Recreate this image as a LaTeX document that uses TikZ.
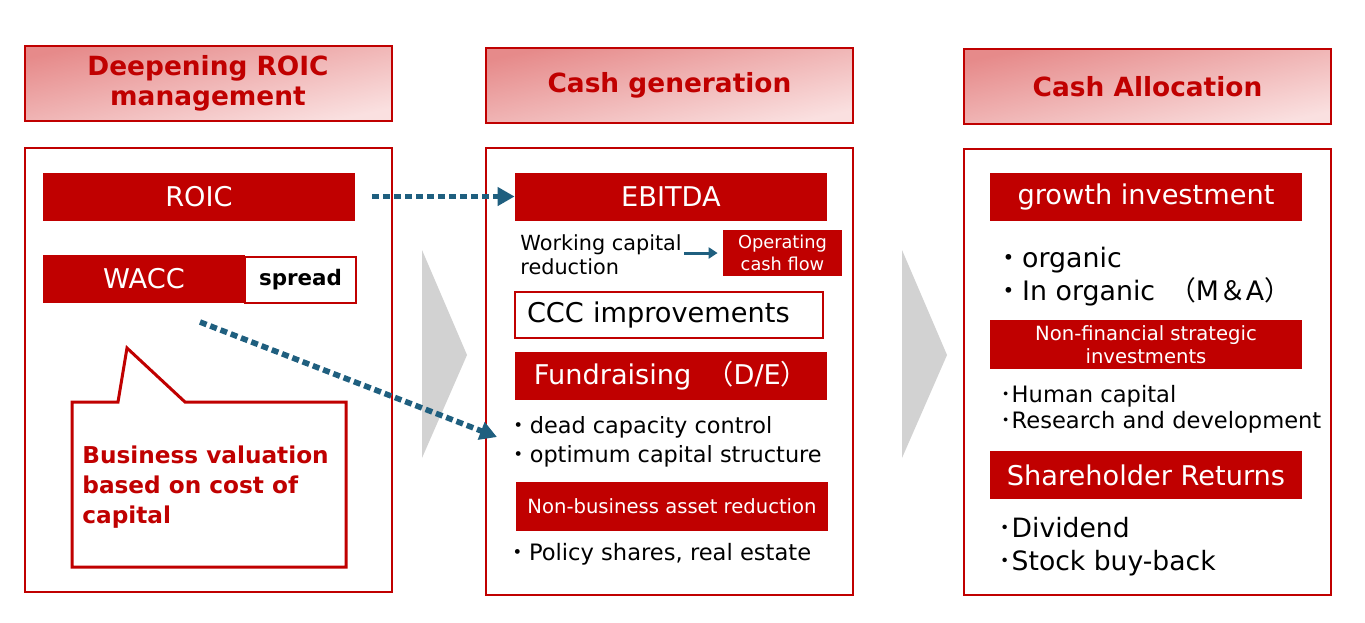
\documentclass[tikz,border=0pt]{standalone}
\usepackage{fontspec}
\setmainfont{DejaVu Sans}
\newfontfamily\cjk{Noto Sans CJK JP}
\usetikzlibrary{arrows.meta}
\definecolor{roicred}{RGB}{192,0,0}
\definecolor{hdrdark}{RGB}{230,138,138}
\definecolor{hdrlight}{RGB}{250,224,224}
\definecolor{arrowblue}{RGB}{31,95,127}
\definecolor{chevgray}{RGB}{210,210,210}

\begin{document}
\begin{tikzpicture}
[x=0.5pt, y=-0.5pt,
every node/.style={inner sep=0pt},
hdr/.style={draw=roicred, line width=1pt, top color=hdrdark, bottom color=hdrlight, shading angle=12,
  text=roicred, align=center, font=\bfseries\fontsize{13.2}{15}\selectfont,
  minimum width=183.5pt, minimum height=37.5pt},
panel/.style={draw=roicred, line width=1pt, minimum width=183.5pt},
bar/.style={fill=roicred, text=white, minimum width=156pt, minimum height=24pt, font=\fontsize{13.6}{16}\selectfont},
smallbar/.style={fill=roicred, text=white, align=center, font=\fontsize{9.8}{11.5}\selectfont},
item/.style={anchor=base west, font=\fontsize{11.2}{14}\selectfont},
bigitem/.style={anchor=base west, font=\fontsize{13.4}{16}\selectfont},
dots/.style={draw=arrowblue, line width=2.8pt, dash pattern=on 3.5pt off 2pt, -{Triangle[length=8.5pt,width=9pt]}}]

\fill[white] (0,0) rectangle (1365,622);
\useasboundingbox (0,0) rectangle (1365,622);

% big grey arrows between the columns
\fill[chevgray] (422,250) -- (467,355) -- (422,458) -- cycle;
\fill[chevgray] (902,250) -- (947,355) -- (902,458) -- cycle;

% ROIC column
\node[hdr] (roichdr) at (208,83) {Deepening ROIC\\management};
\node[panel, minimum height=222pt] (roicpanel) at (208,370) {};
\node[bar] (roic) at (199,196.5) {ROIC};
\node[bar, minimum width=101pt] (wacc) at (144,279) {WACC};
\node[draw=roicred, line width=0.8pt, fill=white, minimum width=55.5pt, minimum height=23pt,
  font=\bfseries\fontsize{10.7}{12}\selectfont] (spread) at (300.5,280) {spread};
\draw[roicred, line width=1.5pt, fill=white] (72,402) -- (118,402) -- (127,348) -- (185,402)
  -- (346,402) -- (346,567) -- (72,567) -- cycle;
\node[anchor=north west, align=left, text=roicred, font=\bfseries\fontsize{11.6}{15}\selectfont]
  (valuation) at (82,445) {Business valuation\\based on cost of\\capital};

% cash generation column
\node[hdr] (cashhdr) at (669.5,85) {Cash generation};
\node[panel, minimum height=223.5pt] (cashpanel) at (669.5,371.5) {};
\node[bar] (ebitda) at (671,196.5) {EBITDA};
\node[anchor=base west, font=\fontsize{10.4}{12}\selectfont] (workcap) at (520,250) {Working capital};
\node[anchor=base west, font=\fontsize{10.4}{12}\selectfont] (workred) at (520,274) {reduction};
\node[smallbar, minimum width=59.5pt, minimum height=23pt, font=\fontsize{8.9}{11}\selectfont]
  (opcf) at (782.5,253) {Operating\\cash flow};
\draw[arrowblue, line width=1.5pt, -{Triangle[length=4.5pt,width=5.5pt]}, shorten >=2.5pt]
  ([xshift=1pt]opcf.west -| workcap.east) -- (opcf.west);
\node[draw=roicred, line width=0.6pt, minimum height=23pt, text width=142pt, inner xsep=6pt,
  align=left, font=\fontsize{13.6}{16}\selectfont] (ccc) at (669,315) {CCC improvements};
\node[bar] (fund) at (671,375.5) {Fundraising\hspace{7.5pt}{\cjk （}D/E{\cjk ）}\hspace{-7.5pt}};
\node[item] (deadcap) at (507,433) {{\cjk ・}dead capacity control};
\node[item] (optcap) at (507,462) {{\cjk ・}optimum capital structure};
\node[smallbar, minimum width=156pt, minimum height=24.5pt] (nonbiz) at (672,506.5) {Non-business asset reduction};
\node[item, font=\fontsize{11.3}{14}\selectfont] (policy) at (506,560) {{\cjk ・}Policy shares, real estate};

% cash allocation column
\node[hdr] (allochdr) at (1147.5,86.5) {Cash Allocation};
\node[panel, minimum height=223pt] (allocpanel) at (1147.5,372) {};
\node[bar] (growth) at (1146,197) {growth investment};
\node[bigitem] (organic) at (995,267) {{\cjk ・}organic};
\node[bigitem] (inorganic) at (995,300) {{\cjk ・}In organic\hspace{7pt}{\cjk （}M{\cjk ＆}A{\cjk ）}};
\node[smallbar, minimum width=156pt, minimum height=24.5pt] (nonfin) at (1146,344.5) {Non-financial strategic\\investments};
\node[item, font=\fontsize{11.3}{14}\selectfont] (human) at (1000,402) {{\cjk ･}Human capital};
\node[item, font=\fontsize{11.3}{14}\selectfont] (rnd) at (1000,428) {{\cjk ･}Research and development};
\node[bar] (returns) at (1146,475) {Shareholder Returns};
\node[bigitem, font=\fontsize{13.3}{16}\selectfont] (dividend) at (998,537) {{\cjk ･}Dividend};
\node[bigitem, font=\fontsize{13.3}{16}\selectfont] (buyback) at (998,570) {{\cjk ･}Stock buy-back};

% dotted links
\coordinate (waccfoot) at (200,322);
\coordinate (capend) at (497,437);
\draw[dots, shorten <=8.5pt] (roic) -- (ebitda);
\draw[dots] (waccfoot) -- (capend);
\end{tikzpicture}
\end{document}
